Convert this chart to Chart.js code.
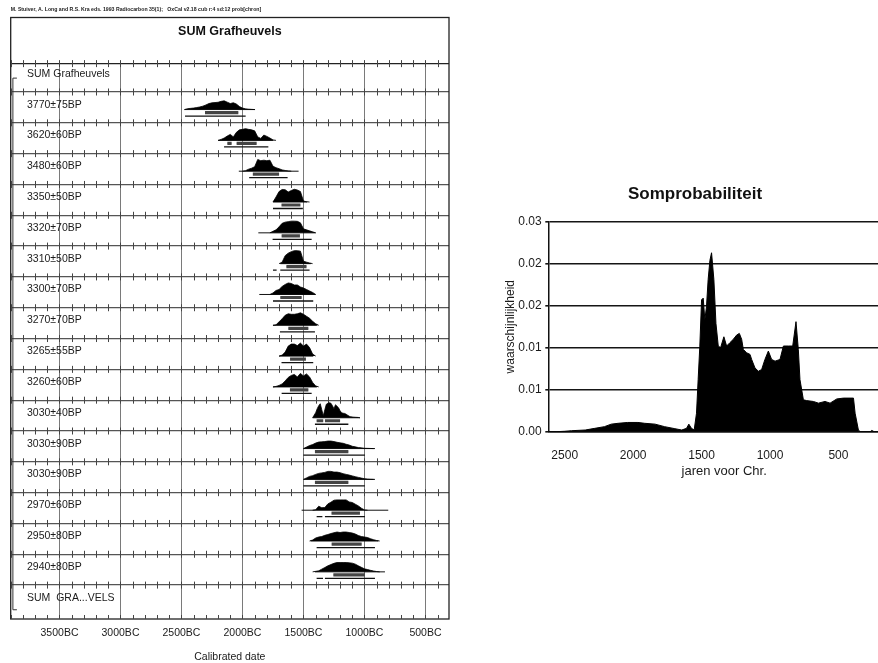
<!DOCTYPE html>
<html>
<head>
<meta charset="utf-8">
<script src="https://cdn.jsdelivr.net/npm/chart.js@4.4.0/dist/chart.umd.min.js"></script>
<style>
html, body { margin: 0; padding: 0; background: #fff; width: 878px; height: 663px; overflow: hidden; }
#oxcal { position: absolute; left: 0; top: 0; }
#sumprob { position: absolute; left: 490px; top: 170px; }
</style>
</head>
<body>
<canvas id="oxcal" width="460" height="663"></canvas>
<canvas id="sumprob" width="410" height="320"></canvas>
<script>
// ---- left: OxCal multiplot ----
const citation = 'M. Stuiver, A. Long and R.S. Kra eds. 1993 Radiocarbon 35(1);   OxCal v2.18 cub r:4 sd:12 prob[chron]';
const rowLabels = ['SUM Grafheuvels', '3770±75BP', '3620±60BP', '3480±60BP', '3350±50BP', '3320±70BP',
    '3310±50BP', '3300±70BP', '3270±70BP', '3265±55BP', '3260±60BP', '3030±40BP', '3030±90BP',
    '3030±90BP', '2970±60BP', '2950±80BP', '2940±80BP', 'SUM  GRA...VELS'];
const calTicks = [3500, 3000, 2500, 2000, 1500, 1000, 500];

// one entry per date row: first year (BC) of the curve, step in years, curve heights
const curveStart = [2475, 2200, 2000, 1750, 1775, 1700, 1775, 1750, 1700, 1750, 1425, 1500, 1500, 1425, 1450, 1425];
const curveStep = [25, 25, 25, 25, 25, 25, 25, 25, 25, 25, 12.5, 25, 25, 25, 25, 25];
const curveHeights = [
    [0, 0.9, 1.2, 1.5, 2, 2.6, 3.4, 4.6, 6, 6.7, 7, 7.3, 8.2, 8.7, 7.4, 6, 6.8, 5.5, 3, 1.5, 0.7, 0.4, 0.2, 0],
    [0, 1, 2.3, 4.3, 6, 3.5, 8, 10.5, 11, 11.7, 11, 10.5, 9.5, 3.5, 2, 5.3, 4, 2.3, 0.5, 0],
    [0, 0.5, 2, 3, 4.5, 11.7, 10.5, 11, 10.5, 11, 5, 3.5, 2.5, 1.3, 0.7, 0.3, 0],
    [0, 5, 10.5, 12.5, 12.3, 10, 11.5, 12.7, 12, 10.5, 1, 0.3, 0],
    [0, 1.5, 3, 6, 9.5, 10.7, 11.2, 11.7, 11.7, 11.5, 10, 4, 3, 2, 1, 0],
    [0, 1.5, 8, 10.5, 12, 13, 13, 12.5, 2.5, 1.5, 0.7, 0],
    [0, 1.5, 4, 5, 8, 10, 11.5, 11, 9.5, 9.5, 7.5, 6.5, 5, 3.5, 2, 0],
    [0, 0.5, 3.5, 6.5, 10, 11.5, 11, 11, 11.5, 12.5, 11, 9, 7, 4, 1.5, 0],
    [0, 1, 4, 10, 12, 12, 10.5, 13, 10, 12, 8.5, 2, 0],
    [0, 0.5, 1.5, 3, 6, 9.5, 11.5, 12.5, 10, 13.5, 11, 13, 10, 4.5, 1, 0],
    [0, 2.5, 5, 9, 12, 14, 8, 2, 8, 13.5, 14.5, 15, 14.5, 12, 9, 13, 11.5, 10, 7, 5, 4.5, 4.3, 3.5, 2.5, 1.5, 1, 0.8, 0.6, 0.5, 0.4, 0.3, 0],
    [0, 1.5, 3, 4, 5.5, 6.5, 6.7, 7, 7.5, 7.5, 7, 6.3, 5.7, 5.3, 4.3, 3.5, 2.3, 1.7, 1, 0.7, 0.3, 0.2, 0.1, 0],
    [0, 1.5, 3, 3.7, 5, 6, 6.5, 7, 8, 8, 7.3, 7.3, 6.7, 5.7, 5, 4.3, 3.5, 2.7, 2, 1.3, 0.7, 0.3, 0.1, 0],
    [0, 0.5, 4, 2.5, 2.7, 6.3, 8, 10, 10.3, 10.3, 10.3, 10.3, 8.3, 7.7, 6, 4.3, 2, 0.3, 0],
    [0, 1, 3, 4, 4.5, 5.7, 6.5, 7.5, 8.3, 9, 8.5, 9, 9, 8.5, 8, 7, 5.5, 4.5, 4, 3.5, 2.3, 1.3, 0.5, 0],
    [0, 0.5, 1, 2.7, 4.3, 6, 7.3, 8.5, 9.3, 9.3, 9.3, 9.3, 9, 8.7, 7.7, 6, 4.5, 3, 2.3, 1.5, 0.8, 0.3, 0]
];
const baseSpan = [[2476, 1897], [2200, 1750], [2030, 1540], [1750, 1470], [1870, 1400], [1690, 1440],
    [1862, 1400], [1750, 1390], [1700, 1420], [1750, 1390], [1425, 1037], [1500, 914], [1500, 914],
    [1515, 805], [1441, 887], [1406, 832]];
const range68 = [
    [[2307, 2034]], [[2124, 2089], [2048, 1884]], [[1915, 1700]], [[1680, 1525]], [[1679, 1529]],
    [[1640, 1475]], [[1690, 1515]], [[1624, 1460]], [[1610, 1480]], [[1611, 1460]],
    [[1392, 1338], [1324, 1200]], [[1406, 1132]], [[1406, 1132]], [[1270, 1037]], [[1269, 1023]], [[1255, 996]]
];
const range95 = [
    [[2471, 1974]], [[2151, 1788]], [[1945, 1630]], [[1750, 1505]], [[1753, 1433]],
    [[1750, 1720], [1690, 1450]], [[1750, 1420]], [[1693, 1406]], [[1680, 1420]], [[1679, 1433]],
    [[1406, 1132]], [[1501, 996]], [[1501, 996]], [[1392, 1345], [1324, 996]], [[1392, 914]], [[1392, 1340], [1324, 914]]
];

// ---- right: summed probability ----
const sumYears = [2620, 2560, 2500, 2450, 2350, 2280, 2210, 2160, 2110, 2040, 1965, 1915, 1840, 1770, 1695,
    1645, 1610, 1593, 1574, 1554, 1537, 1525, 1513, 1500, 1488, 1476, 1464, 1452, 1439, 1427, 1410, 1395,
    1378, 1361, 1337, 1317, 1293, 1268, 1244, 1224, 1207, 1195, 1171, 1146, 1134, 1110, 1085, 1061, 1037,
    1012, 988, 963, 927, 902, 866, 834, 810, 793, 781, 756, 732, 683, 646, 598, 561, 512, 463, 390, 378,
    354, 341, 268, 256, 239, 50];
const sumProb = [0, 0, 0.00005, 0.00012, 0.0002, 0.0004, 0.0006, 0.0009, 0.001, 0.0011, 0.0011, 0.001, 0.0009,
    0.0006, 0.00036, 0.0002, 0.0004, 0.0009, 0.0004, 0.0002, 0.0022, 0.0062, 0.0101, 0.0157, 0.0159, 0.0133,
    0.0149, 0.0181, 0.0204, 0.0213, 0.0181, 0.0129, 0.0102, 0.0100, 0.0113, 0.0102, 0.0106, 0.0110, 0.0115,
    0.0117, 0.0110, 0.0098, 0.0094, 0.0092, 0.0086, 0.0076, 0.0072, 0.0074, 0.0086, 0.0096, 0.0086, 0.0084,
    0.0086, 0.0102, 0.0102, 0.0102, 0.0131, 0.0098, 0.0062, 0.0038, 0.0037, 0.0036, 0.0034, 0.0036, 0.0034,
    0.0039, 0.0040, 0.0040, 0.0022, 0.0002, 0, 0, 0.00015, 0, 0];
const sumXTicks = [2500, 2000, 1500, 1000, 500];
const sumYTicks = [0, 0.005, 0.01, 0.015, 0.02, 0.025];
const sumYText = ['0.00', '0.01', '0.01', '0.02', '0.02', '0.03'];

Chart.defaults.font.family = "'Liberation Sans', Arial, sans-serif";
Chart.defaults.color = '#1a1a1a';
Chart.defaults.animation = false;

const rowPx = 30.8;          // pixel height of one row, heights are read in px
const baseOff = 0.57;
const off68 = 3 / rowPx;
const off95 = 6.5 / rowPx;

function segments(list, off) {
    const pts = [];
    list.forEach((row, i) => {
        const y = i + 1 + baseOff + off;
        row.forEach(([a, b]) => {
            pts.push({ x: a, y: y }, { x: b, y: y }, { x: b, y: null });
        });
    });
    return pts;
}

const oxSets = curveHeights.map((hs, i) => {
    const base = i + 1 + baseOff;
    return {
        data: hs.map((h, k) => ({ x: curveStart[i] - k * curveStep[i], y: base - h / rowPx })),
        borderColor: '#000',
        borderWidth: 0.8,
        backgroundColor: '#000',
        fill: { value: base },
        pointRadius: 0,
        tension: 0
    };
});
oxSets.push({ data: segments(baseSpan.map(s => [s]), 0), borderColor: '#111', borderWidth: 1, pointRadius: 0, fill: false });
oxSets.push({ data: segments(range68, off68), borderColor: '#444', borderWidth: 3.2, pointRadius: 0, fill: false, borderCapStyle: 'butt' });
oxSets.push({ data: segments(range68, off68), borderColor: '#c4c4c4', borderWidth: 1.2, pointRadius: 0, fill: false, borderCapStyle: 'butt' });
oxSets.push({ data: segments(range95, off95), borderColor: '#111', borderWidth: 1.3, pointRadius: 0, fill: false });

const oxcalDecor = {
    id: 'oxcalDecor',
    beforeDatasetsDraw(chart) {
        const { ctx, chartArea: a, scales: { x, y } } = chart;
        ctx.save();
        // frame round header + plot
        ctx.strokeStyle = '#222';
        ctx.lineWidth = 1.3;
        ctx.strokeRect(a.left, 17.5, a.right - a.left, a.bottom - 17.5);
        ctx.beginPath();
        ctx.moveTo(a.left, a.top);
        ctx.lineTo(a.right, a.top);
        ctx.stroke();
        // minor ticks every 100 years on each row line
        ctx.strokeStyle = '#444';
        ctx.lineWidth = 1;
        const lines = [a.top];
        for (let r = 1; r <= 17; r++) lines.push(y.getPixelForValue(r));
        const lo = Math.ceil(x.min / 100) * 100;
        ctx.beginPath();
        lines.forEach(py => {
            for (let yr = lo; yr <= x.max; yr += 100) {
                const px = Math.round(x.getPixelForValue(yr)) + 0.5;
                ctx.moveTo(px, py - 3.5);
                ctx.lineTo(px, py + 3.5);
            }
        });
        for (let yr = lo; yr <= x.max; yr += 100) {
            const px = Math.round(x.getPixelForValue(yr)) + 0.5;
            ctx.moveTo(px, a.bottom);
            ctx.lineTo(px, a.bottom - 4);
        }
        ctx.stroke();
        // bracket on the left
        ctx.strokeStyle = '#333';
        ctx.beginPath();
        const bx = a.left + 2.2;
        ctx.moveTo(bx + 4, y.getPixelForValue(0.55));
        ctx.lineTo(bx, y.getPixelForValue(0.55));
        ctx.lineTo(bx, y.getPixelForValue(17.8));
        ctx.lineTo(bx + 4, y.getPixelForValue(17.8));
        ctx.stroke();
        // row labels
        ctx.fillStyle = '#1a1a1a';
        ctx.font = "10.5px 'Liberation Sans', Arial, sans-serif";
        ctx.textBaseline = 'middle';
        ctx.textAlign = 'left';
        rowLabels.forEach((t, r) => ctx.fillText(t, 27, y.getPixelForValue(r + 0.41)));
        ctx.restore();
    }
};

new Chart(document.getElementById('oxcal'), {
    type: 'line',
    data: { datasets: oxSets },
    options: {
        responsive: false,
        devicePixelRatio: 1,
        layout: { padding: { left: 10.7, right: 11, top: 0, bottom: 0 } },
        plugins: {
            legend: { display: false },
            tooltip: { enabled: false },
            title: {
                display: true, text: citation, align: 'start',
                font: { size: 5.2 }, color: '#222',
                padding: { top: 6.7, bottom: 10.9 }
            },
            subtitle: {
                display: true, text: 'SUM Grafheuvels',
                font: { size: 12.5, weight: 'bold' }, color: '#111',
                padding: { top: 0, bottom: 24.8 }
            }
        },
        scales: {
            x: {
                type: 'linear', reverse: true, min: 307, max: 3900,
                afterBuildTicks: s => { s.ticks = calTicks.map(v => ({ value: v })); },
                afterFit: s => { s.height = 44; },
                grid: { color: '#7a7a7a', lineWidth: 1, drawTicks: false },
                border: { display: false },
                ticks: { autoSkip: false, maxRotation: 0, padding: 7.7, font: { size: 10.5 }, callback: v => v + 'BC' },
                title: { display: true, text: 'Calibrated date', font: { size: 10.5 }, padding: { top: 4, bottom: 0 } }
            },
            y: {
                type: 'linear', reverse: true, min: 0.08, max: 18.1,
                afterBuildTicks: s => { s.ticks = rowLabels.slice(1).map((t, i) => ({ value: i + 1 })); },
                afterFit: s => { s.width = 0; },
                grid: { color: '#555', lineWidth: 1.2, drawTicks: false },
                border: { display: false },
                ticks: { display: false }
            }
        }
    },
    plugins: [oxcalDecor]
});

new Chart(document.getElementById('sumprob'), {
    type: 'line',
    data: {
        datasets: [{
            data: sumYears.map((yr, i) => ({ x: yr, y: sumProb[i] })),
            borderColor: '#000',
            backgroundColor: '#000',
            borderWidth: 1,
            fill: 'origin',
            pointRadius: 0,
            tension: 0
        }]
    },
    options: {
        responsive: false,
        devicePixelRatio: 1,
        layout: { padding: 0 },
        plugins: {
            legend: { display: false },
            tooltip: { enabled: false },
            title: {
                display: true, text: 'Somprobabiliteit',
                font: { size: 17, weight: 'bold' }, color: '#111',
                padding: { top: 14, bottom: 17.3 }
            }
        },
        scales: {
            x: {
                type: 'linear', reverse: true, min: 50, max: 2620,
                afterBuildTicks: s => { s.ticks = sumXTicks.map(v => ({ value: v })); },
                afterFit: s => { s.height = 58.3; },
                grid: { display: false, drawTicks: false },
                border: { display: true, color: '#111', width: 1.5 },
                ticks: { autoSkip: false, maxRotation: 0, padding: 17, font: { size: 12 }, callback: v => String(v) },
                title: { display: true, text: 'jaren voor Chr.', font: { size: 13 }, padding: { top: 0, bottom: 10.5 } }
            },
            y: {
                min: 0, max: 0.025,
                afterBuildTicks: s => { s.ticks = sumYTicks.map(v => ({ value: v })); },
                afterFit: s => { s.width = 58.3; },
                grid: { color: '#151515', lineWidth: 1.6, tickLength: 3 },
                border: { display: true, color: '#111', width: 1.5 },
                ticks: { padding: 3.6, font: { size: 12 }, callback: (v, i) => sumYText[i] },
                title: { display: true, text: 'waarschijnlijkheid', font: { size: 12 }, padding: { top: 13, bottom: 0 } }
            }
        }
    }
});
</script>
</body>
</html>
